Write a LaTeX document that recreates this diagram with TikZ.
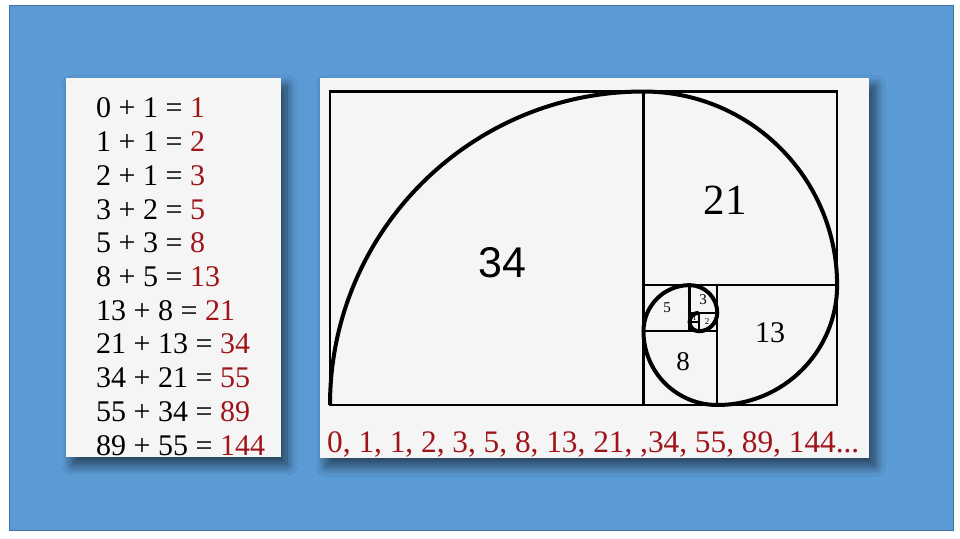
\documentclass[tikz,border=0pt]{standalone}
\usepackage{fontspec}
\setmainfont{Liberation Serif}
\setsansfont{Liberation Sans}
\usetikzlibrary{shadows.blur}
\definecolor{bg}{RGB}{91,155,213}
\definecolor{bgborder}{RGB}{65,113,156}
\definecolor{panel}{RGB}{245,245,245}
\definecolor{fibred}{RGB}{158,20,26}
\begin{document}
\begin{tikzpicture}[x=1pt,y=1pt,
  panelbox/.style={fill=panel, blur shadow={shadow xshift=6pt, shadow yshift=-8pt, shadow blur steps=14, shadow blur radius=10pt, shadow opacity=60}},
  eqtext/.style={anchor=base west, inner sep=0pt, font=\fontsize{30}{30}\selectfont},
  seqtext/.style={anchor=base west, inner sep=0pt, text=fibred, font=\fontsize{31.3}{31.3}\selectfont},
  sqline/.style={line width=2.2pt, line cap=rect},
  spiral/.style={line width=4pt},
  lab/.style={inner sep=0pt, anchor=center}
]
\useasboundingbox (0,0) rectangle (960,538);
\fill[white] (0,0) rectangle (960,538);
\draw[fill=bg, draw=bgborder, line width=1pt] (9,8) rectangle (953,532);

% panels
\path[panelbox] (66,81) rectangle (281,460);
\path[panelbox] (320,80) rectangle (869,460);

% equations
\node[eqtext] (eq1)  at (96,420.0) {0 + 1 = \textcolor{fibred}{1}};
\node[eqtext] (eq2)  at (96,386.3) {1 + 1 = \textcolor{fibred}{2}};
\node[eqtext] (eq3)  at (96,352.6) {2 + 1 = \textcolor{fibred}{3}};
\node[eqtext] (eq4)  at (96,318.9) {3 + 2 = \textcolor{fibred}{5}};
\node[eqtext] (eq5)  at (96,285.2) {5 + 3 = \textcolor{fibred}{8}};
\node[eqtext] (eq6)  at (96,251.5) {8 + 5 = \textcolor{fibred}{13}};
\node[eqtext] (eq7)  at (96,217.8) {13 + 8 = \textcolor{fibred}{21}};
\node[eqtext] (eq8)  at (96,184.1) {21 + 13 = \textcolor{fibred}{34}};
\node[eqtext] (eq9)  at (96,150.4) {34 + 21 = \textcolor{fibred}{55}};
\node[eqtext] (eq10) at (96,116.7) {55 + 34 = \textcolor{fibred}{89}};
\node[eqtext] (eq11) at (96,83.0)  {89 + 55 = \textcolor{fibred}{144}};

% golden rectangle
\begin{scope}[shift={(330,133)}, x=9.22pt, y=9.22pt]
  \draw[sqline] (0,0) rectangle (55,34);
  \draw[sqline] (34,0) -- (34,34);
  \draw[sqline] (34,13) -- (55,13);
  \draw[sqline] (42,0) -- (42,13);
  \draw[sqline] (34,8) -- (42,8);
  \draw[sqline] (39,8) -- (39,13);
  \draw[sqline] (39,10) -- (42,10);
  \draw[sqline] (40,8) -- (40,10);
  \draw[sqline] (39,9) -- (40,9);
  \draw[spiral] (0,0) arc[start angle=180, end angle=90, radius=34]
                arc[start angle=90, end angle=0, radius=21]
                arc[start angle=0, end angle=-90, radius=13]
                arc[start angle=270, end angle=180, radius=8]
                arc[start angle=180, end angle=90, radius=5]
                arc[start angle=90, end angle=0, radius=3]
                arc[start angle=0, end angle=-90, radius=2]
                arc[start angle=270, end angle=180, radius=1]
                arc[start angle=180, end angle=90, radius=1];
\end{scope}

% square labels
\node[lab, font=\sffamily\fontsize{43}{43}\selectfont] (l34) at (502,275) {34};
\node[lab, font=\fontsize{43}{43}\selectfont] (l21) at (725,338) {21};
\node[lab, font=\fontsize{30}{30}\selectfont] (l13) at (770,205) {13};
\node[lab, font=\fontsize{27}{27}\selectfont] (l8) at (683,176) {8};
\node[lab, font=\fontsize{15}{15}\selectfont] (l5) at (667,230) {5};
\node[lab, font=\fontsize{15}{15}\selectfont] (l3) at (703,238) {3};
\node[lab, font=\fontsize{9}{9}\selectfont] (l2) at (707,216) {2};
\node[lab, font=\fontsize{8}{8}\selectfont] (l1) at (694.5,220) {1};

% sequence
\node[seqtext] (seq) at (327,86) {0, 1, 1, 2, 3, 5, 8, 13, 21, ,34, 55, 89, 144...};
\end{tikzpicture}
\end{document}
